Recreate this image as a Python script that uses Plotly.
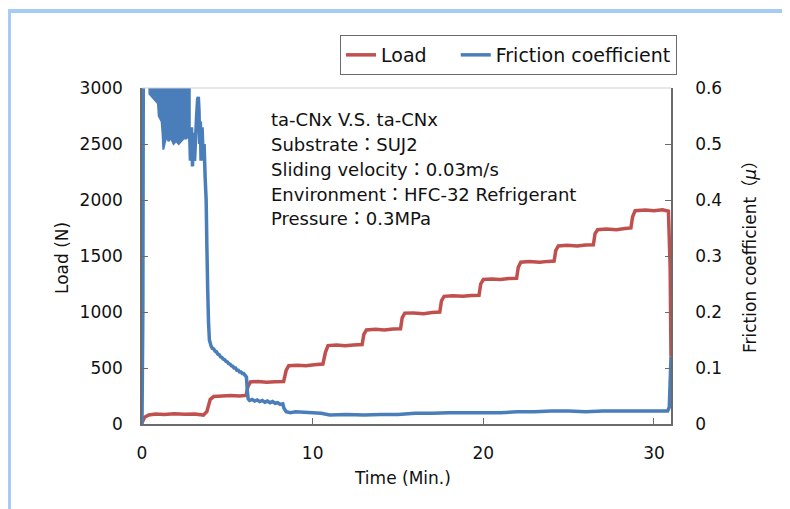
import plotly.graph_objects as go

# ---- data (time in minutes) ----
load_time = [0.0, 0.15, 0.4, 0.8, 1.3, 1.9, 2.5, 3.1, 3.6, 3.8, 4.0, 4.2, 4.7, 5.2, 5.7, 6.1,
             6.2, 6.35, 6.8, 7.3, 7.8, 8.3, 8.45, 8.6, 9.1, 9.6, 10.1, 10.6, 10.75, 10.9,
             11.4, 11.9, 12.4, 12.9, 13.0, 13.15, 13.7, 14.2, 14.7, 15.15, 15.25, 15.4,
             15.9, 16.5, 17.0, 17.45, 17.55, 17.7, 18.2, 18.8, 19.3, 19.75, 19.85, 20.0,
             20.5, 21.0, 21.5, 21.95, 22.05, 22.2, 22.7, 23.3, 23.8, 24.15, 24.25, 24.4,
             24.9, 25.5, 26.0, 26.45, 26.55, 26.7, 27.2, 27.8, 28.3, 28.65, 28.75, 28.9,
             29.5, 30.0, 30.5, 30.85, 30.95, 31.0]
load_n = [10, 60, 80, 90, 85, 92, 88, 90, 80, 110, 220, 245, 250, 255, 250, 255,
          330, 375, 380, 372, 378, 380, 480, 520, 525, 520, 530, 535, 640, 700,
          705, 698, 705, 710, 800, 840, 845, 840, 848, 850, 950, 990,
          992, 985, 995, 1000, 1100, 1140, 1145, 1140, 1148, 1150, 1250, 1290,
          1295, 1290, 1298, 1300, 1400, 1445, 1450, 1445, 1452, 1455, 1550, 1590,
          1595, 1590, 1598, 1600, 1700, 1735, 1740, 1735, 1745, 1750, 1850, 1905,
          1910, 1905, 1912, 1900, 1400, 600]

fric_time = [0.0, 0.05, 0.08, 0.45, 0.48,
             2.80, 2.84, 2.90, 2.96, 3.02, 3.08, 3.14, 3.20, 3.26, 3.30,
             3.34, 3.38, 3.42, 3.46, 3.52, 3.58, 3.64, 3.70, 3.76, 3.80, 3.85, 3.90,
             3.95, 4.05, 4.12, 4.2, 4.28, 4.36, 4.44, 4.52, 4.6, 4.68, 4.76, 4.84, 4.92,
             5.0, 5.08, 5.16, 5.24, 5.32, 5.4, 5.48, 5.56, 5.64, 5.72, 5.8, 5.88, 5.96,
             6.04, 6.12, 6.17, 6.22, 6.3, 6.45, 6.6, 6.75, 6.9, 7.05, 7.2, 7.35, 7.5,
             7.65, 7.8, 7.95, 8.1, 8.25, 8.32, 8.45, 8.7, 9.0, 9.5, 10.0, 10.5, 11.0,
             12.0, 13.0, 14.0, 15.0, 16.0, 17.0, 18.0, 19.0, 20.0, 21.0, 22.0, 23.0,
             24.0, 25.0, 26.0, 27.0, 28.0, 29.0, 30.0, 30.8, 30.9, 31.0]
fric_mu = [0.0, 0.2, 0.7, 0.7, 0.59,
           0.51, 0.47, 0.53, 0.46, 0.52, 0.47, 0.51, 0.55, 0.58, 0.584,
           0.56, 0.50, 0.54, 0.47, 0.53, 0.48, 0.50, 0.44, 0.40, 0.32, 0.24, 0.18,
           0.15, 0.139, 0.135, 0.134, 0.130, 0.129, 0.125, 0.124, 0.120, 0.119, 0.116, 0.115, 0.112,
           0.111, 0.108, 0.107, 0.104, 0.103, 0.100, 0.100, 0.096, 0.096, 0.093, 0.093, 0.090, 0.090,
           0.087, 0.084, 0.06, 0.045, 0.042, 0.044, 0.041, 0.043, 0.040, 0.042, 0.039, 0.041, 0.038,
           0.040, 0.037, 0.038, 0.035, 0.036, 0.028, 0.022, 0.020, 0.022, 0.021, 0.020, 0.019, 0.016,
           0.017, 0.016, 0.017, 0.017, 0.019, 0.019, 0.020, 0.020, 0.020, 0.020, 0.022, 0.022,
           0.023, 0.023, 0.022, 0.023, 0.023, 0.023, 0.023, 0.023, 0.03, 0.12]

# lower edge of the dense, off-scale friction band at the start of the run (0.47-2.8 min)
band_time = [0.47, 0.55, 0.65, 0.75, 0.85, 0.93, 0.98, 1.05, 1.15, 1.2, 1.25, 1.32, 1.45,
             1.55, 1.7, 1.85, 2.0, 2.15, 2.3, 2.45, 2.6, 2.72, 2.8]
band_low = [0.59, 0.588, 0.585, 0.59, 0.58, 0.575, 0.55, 0.545, 0.54, 0.52, 0.49, 0.50, 0.515,
            0.505, 0.51, 0.50, 0.505, 0.50, 0.505, 0.51, 0.51, 0.52, 0.51]
band_top = 0.6

info_lines = ["ta-CNx V.S. ta-CNx", "Substrate：SUJ2", "Sliding velocity：0.03m/s",
              "Environment：HFC-32 Refrigerant", "Pressure：0.3MPa"]

load_ticks = [0, 500, 1000, 1500, 2000, 2500, 3000]
fric_ticks = [0, 0.1, 0.2, 0.3, 0.4, 0.5, 0.6]
fric_labels = ["0", "0.1", "0.2", "0.3", "0.4", "0.5", "0.6"]
time_ticks = [0, 10, 20, 30]

RED = "#c0504d"
BLUE = "#4a7ebb"
AX = "#6b6b6b"
FONT = "DejaVu Sans, Noto Sans CJK JP, sans-serif"

# page has an 8px body margin; plot area in figure pixels
OFF = 8
L, T, W, H = 142 - OFF, 88 - OFF, 529, 336
def px(x): return (x - OFF - L) / W      # screen x -> paper
def py(y): return (T + H - (y - OFF)) / H  # screen y -> paper

fig = go.Figure()
fig.add_trace(go.Scatter(x=load_time, y=load_n, mode="lines", name="Load&nbsp;&nbsp;&nbsp;&nbsp;",
                         line=dict(color=RED, width=3.5, simplify=False)))
fig.add_trace(go.Scatter(x=band_time + band_time[::-1], y=band_low + [band_top] * len(band_time),
                         mode="lines", fill="toself", fillcolor=BLUE, yaxis="y2",
                         line=dict(color=BLUE, width=2), showlegend=False, hoverinfo="skip"))
fig.add_trace(go.Scatter(x=fric_time, y=fric_mu, mode="lines", name="Friction coefficient",
                         yaxis="y2", line=dict(color=BLUE, width=3.5, simplify=False)))

for i, s in enumerate(info_lines):
    fig.add_annotation(text=s, xref="paper", yref="paper", x=px(269), y=py(119 + 25 * i),
                       xanchor="left", yanchor="middle", showarrow=False,
                       font=dict(size=18, color="#111"))

fig.add_annotation(text="Time (Min.)", xref="paper", yref="paper", x=px(402), y=py(478),
                   xanchor="center", yanchor="middle", showarrow=False,
                   font=dict(size=17, color="#111"))
fig.add_annotation(text="Load (N)", xref="paper", yref="paper", x=px(62), y=py(258),
                   xanchor="center", yanchor="middle", textangle=-90, showarrow=False,
                   font=dict(size=17, color="#111"))
fig.add_annotation(text="Friction coefficient（<i>μ</i>）", xref="paper", yref="paper",
                   x=px(750), y=py(253), xanchor="center", yanchor="middle", textangle=-90,
                   showarrow=False, font=dict(size=17, color="#111"))

# light blue frame at the left and top of the picture
fig.add_shape(type="line", xref="paper", yref="paper", x0=px(9), x1=px(9), y0=py(9), y1=py(530),
              line=dict(color="#a6cbf5", width=4))
fig.add_shape(type="line", xref="paper", yref="paper", x0=px(7), x1=px(820), y0=py(11), y1=py(11),
              line=dict(color="#a6cbf5", width=4))
# faint top border of the plot
fig.add_shape(type="line", xref="paper", yref="paper", x0=0, x1=1, y0=1, y1=1,
              line=dict(color="#d0d0d0", width=1))

fig.update_layout(
    width=790, height=509, autosize=False,
    margin=dict(l=L, r=790 - L - W, t=T, b=509 - T - H),
    paper_bgcolor="white", plot_bgcolor="white",
    font=dict(family=FONT, size=17, color="#111"),
    xaxis=dict(range=[0, 31], tickvals=time_ticks, ticks="inside", ticklen=6, tickcolor=AX,
               showline=True, linecolor=AX, linewidth=1.5, showgrid=False, zeroline=False,
               ticklabelstandoff=13),
    yaxis=dict(range=[0, 3000], tickvals=load_ticks, ticks="inside", ticklen=6, tickcolor=AX,
               showline=True, linecolor=AX, linewidth=1.5, showgrid=False, zeroline=False,
               ticklabelstandoff=14),
    yaxis2=dict(range=[0, 0.6], tickvals=fric_ticks, ticktext=fric_labels,
                overlaying="y", side="right", ticks="inside", ticklen=6, tickcolor=AX,
                showline=True, linecolor=AX, linewidth=1.5, showgrid=False, zeroline=False,
                ticklabelstandoff=19),
    legend=dict(orientation="h", x=px(340), y=py(35), xanchor="left", yanchor="top",
                bordercolor=AX, borderwidth=1, bgcolor="white",
                font=dict(size=19, color="#111"), itemwidth=30),
    showlegend=True,
)

fig.write_html("out.html")
